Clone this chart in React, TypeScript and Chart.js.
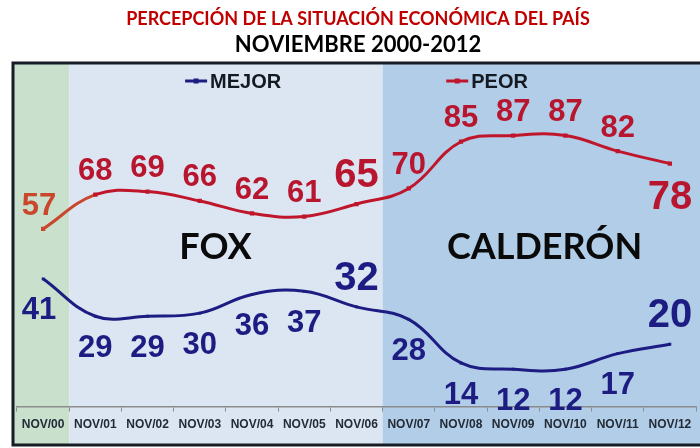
import React, { useEffect, useRef } from 'react';
import { Chart, registerables } from 'chart.js';

Chart.register(...registerables);

const categories = ['NOV/00', 'NOV/01', 'NOV/02', 'NOV/03', 'NOV/04', 'NOV/05', 'NOV/06', 'NOV/07', 'NOV/08', 'NOV/09', 'NOV/10', 'NOV/11', 'NOV/12'];
const mejor = [41, 29, 29, 30, 36, 37, 32, 28, 14, 12, 12, 17, 20];
const peor = [57, 68, 69, 66, 62, 61, 65, 70, 85, 87, 87, 82, 78];

// label placement: 1 = above the point, -1 = below
const mejorSide = [-1, -1, -1, -1, -1, -1, 1, -1, -1, -1, -1, -1, 1];
const peorSide = [1, 1, 1, 1, 1, 1, 1, 1, 1, 1, 1, 1, -1];
const mejorBig = [false, false, false, false, false, false, true, false, false, false, false, false, true];
const peorBig = [false, false, false, false, false, false, true, false, false, false, false, false, true];

const eraNames = ['FOX', 'CALDERÓN'];
const eraCenters = [3.3, 9.6];
const eraValue = 51;

const bandFrom = [0, 1, 7];
const bandTo = [1, 7, 13];
const bandColors = ['#c9e0cd', '#dce6f2', '#b1cde7'];

const BLUE = '#1c1c82';
const RED = '#c0162c';
const RED_LABEL = '#b8162e';
const ORANGE = '#c9482c';

const bgPlugin = {
  id: 'bg',
  beforeDraw(chart: any) {
    const { ctx, chartArea, scales } = chart;
    const x = scales.x;
    const frameL = chartArea.left - 4;
    const frameT = chartArea.top - 32;
    const frameB = chart.height - 3;
    const frameR = chart.width + 2;
    ctx.save();
    for (let i = 0; i < bandFrom.length; i++) {
      const l = i === 0 ? frameL : x.getPixelForValue(bandFrom[i] - 0.5);
      const r = i === bandFrom.length - 1 ? frameR : x.getPixelForValue(bandTo[i] - 0.5);
      ctx.fillStyle = bandColors[i];
      ctx.fillRect(l, frameT, r - l, frameB - frameT);
    }
    ctx.strokeStyle = '#161c24';
    ctx.lineWidth = 3;
    ctx.strokeRect(frameL, frameT, frameR - frameL, frameB - frameT);
    ctx.restore();
  },
  afterDraw(chart: any) {
    const { ctx, chartArea, scales } = chart;
    ctx.save();
    // era names
    ctx.fillStyle = '#0a0a0a';
    ctx.font = 'bold 36px Lato';
    ctx.textAlign = 'center';
    ctx.textBaseline = 'middle';
    for (let i = 0; i < eraNames.length; i++) {
      ctx.fillText(eraNames[i], scales.x.getPixelForValue(eraCenters[i]), scales.y.getPixelForValue(eraValue));
    }
    // legend
    ctx.font = 'bold 20px Arial';
    ctx.textAlign = 'left';
    const items = chart.data.datasets.map((d: any) => ({ text: d.label, color: d.borderColor }));
    const box = 22;
    const gap = 165;
    const widths = items.map((it: any) => box + 3 + ctx.measureText(it.text).width);
    const total = widths[0] + gap + widths[1];
    let cx = (chartArea.left + chartArea.right) / 2 - total / 2;
    const ly = chartArea.top - 14;
    items.forEach((it: any, i: number) => {
      ctx.strokeStyle = it.color;
      ctx.lineWidth = 3;
      ctx.beginPath();
      ctx.moveTo(cx, ly);
      ctx.lineTo(cx + box, ly);
      ctx.stroke();
      ctx.fillStyle = it.color;
      ctx.fillRect(cx + box / 2 - 2.5, ly - 2.5, 5, 5);
      ctx.fillStyle = '#141a22';
      ctx.fillText(it.text, cx + box + 3, ly + 1);
      cx += widths[i] + gap;
    });
    ctx.restore();
  },
};

const labelPlugin = {
  id: 'vlabels',
  afterDatasetsDraw(chart: any) {
    const { ctx } = chart;
    const cfg = [
      { side: mejorSide, big: mejorBig, color: () => BLUE, off: 32 },
      { side: peorSide, big: peorBig, color: (i: number) => (i === 0 ? ORANGE : RED_LABEL), off: 23 },
    ];
    ctx.save();
    ctx.textAlign = 'center';
    ctx.textBaseline = 'middle';
    chart.data.datasets.forEach((ds: any, di: number) => {
      const meta = chart.getDatasetMeta(di);
      const c = cfg[di];
      meta.data.forEach((pt: any, i: number) => {
        const big = c.big[i];
        ctx.font = big ? 'bold 40px Arial' : 'bold 31px Arial';
        ctx.fillStyle = c.color(i);
        const side = c.side[i];
        const off = big ? (side > 0 ? 28 : 34) : c.off;
        const dx = i === 0 ? -4 : 0;
        ctx.fillText(String(ds.data[i]), pt.x + dx, pt.y - side * off);
      });
    });
    ctx.restore();
  },
};

export default function App() {
  const ref = useRef<HTMLCanvasElement>(null);
  useEffect(() => {
    const canvas = ref.current!;
    const chart = new Chart(canvas, {
      type: 'line',
      data: {
        labels: categories,
        datasets: [
          {
            label: 'MEJOR',
            data: mejor,
            borderColor: BLUE,
            backgroundColor: BLUE,
            borderWidth: 3,
            tension: 0.4,
            pointStyle: 'rect',
            pointRadius: 2,
            pointBackgroundColor: BLUE,
            pointBorderWidth: 0,
          },
          {
            label: 'PEOR',
            data: peor,
            borderColor: RED,
            backgroundColor: RED,
            borderWidth: 3,
            tension: 0.4,
            pointStyle: 'rect',
            pointRadius: 3,
            pointBackgroundColor: peor.map((_, i) => (i === 0 ? ORANGE : RED)),
            pointBorderWidth: 0,
            segment: {
              borderColor: (c: any) => (c.p0DataIndex === 0 ? ORANGE : RED),
            },
          },
        ],
      },
      options: {
        responsive: false,
        animation: false,
        layout: { padding: { left: 17, right: 1, top: 0, bottom: 10 } },
        plugins: {
          legend: { display: false },
          tooltip: { enabled: false },
          title: {
            display: true,
            text: 'PERCEPCIÓN DE LA SITUACIÓN ECONÓMICA DEL PAÍS',
            color: '#c00000',
            font: { family: 'Lato', weight: 'bold', size: 18 },
            padding: { top: 8, bottom: 2 },
          },
          subtitle: {
            display: true,
            text: 'NOVIEMBRE 2000-2012',
            color: '#000000',
            font: { family: 'Lato', weight: 'bold', size: 22 },
            padding: { top: 0, bottom: 37 },
          },
        },
        scales: {
          x: {
            offset: true,
            grid: { offset: true, drawOnChartArea: false, drawTicks: true, tickLength: 5, color: '#8c8c8c' },
            border: { color: '#8c8c8c', width: 1.5 },
            ticks: {
              color: '#222b36',
              font: { family: 'Arial', weight: 'bold', size: 12 },
              padding: 6,
              maxRotation: 0,
              autoSkip: false,
            },
          },
          y: { display: false, min: 0, max: 100 },
        },
      },
      plugins: [bgPlugin, labelPlugin],
    } as any);
    return () => chart.destroy();
  }, []);
  return (
    <canvas
      ref={ref}
      width={700}
      height={448}
      style={{ position: 'absolute', left: 0, top: 0, display: 'block' }}
    />
  );
}
